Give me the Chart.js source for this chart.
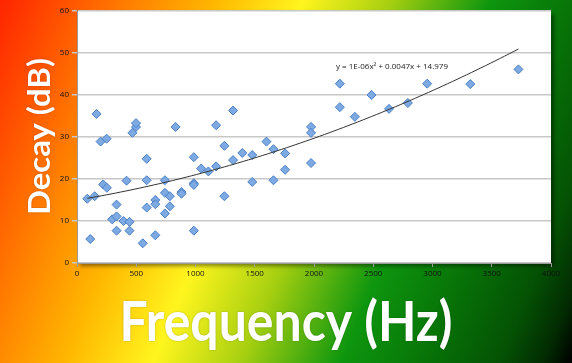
<!DOCTYPE html>
<html>
<head>
<meta charset="utf-8">
<script src="https://cdn.jsdelivr.net/npm/chart.js@4.4.1/dist/chart.umd.min.js"></script>
<style>
  html, body { margin: 0; padding: 0; background: #fff; }
  #wrap { width: 572px; height: 363px; }
</style>
</head>
<body>
<div id="wrap"><canvas id="decayChart" width="572" height="363"></canvas></div>
<script>
const frequencies = [
    165, 199, 250, 468, 498, 498, 832, 1174, 1317, 1244, 1599, 1658, 1975, 1975,
    1756, 1975, 87, 149, 221, 252, 334, 297, 334, 392, 443, 334, 443, 112,
    418, 588, 588, 588, 555, 661, 661, 661, 742, 742, 784, 784, 742, 882,
    882, 986, 986, 986, 986, 1048, 1109, 1174, 1244, 1317, 1395, 1479, 1479, 1658,
    1756, 2218, 2955, 3319, 3725, 2218, 2485, 2345, 2633, 2792
];
const decays = [
    35.5, 28.9, 29.6, 31.0, 32.4, 33.3, 32.4, 32.8, 36.3, 27.9, 28.9, 27.1, 32.4, 31.0,
    26.1, 23.8, 15.3, 15.9, 18.7, 17.9, 13.9, 10.4, 11.1, 10.0, 9.8, 7.7, 7.7, 5.7,
    19.6, 24.8, 19.7, 13.2, 4.7, 15.0, 14.0, 6.6, 19.7, 16.7, 15.9, 13.5, 11.8, 16.9,
    16.5, 25.2, 19.0, 18.6, 7.7, 22.5, 21.8, 23.0, 15.9, 24.5, 26.2, 25.7, 19.3, 19.7,
    22.2, 42.7, 42.7, 42.6, 46.1, 37.1, 40.0, 34.8, 36.7, 38.1
];

// polynomial trendline (label shows rounded coefficients)
const trendA = 1.33e-6;
const trendB = 0.0047;
const trendC = 14.979;
const equationText = 'y = 1E-06x\u00B2 + 0.0047x + 14.979';

const xTitle = 'Frequency (Hz)';
const yTitle = 'Decay (dB)';

const points = frequencies.map((f, i) => ({ x: f, y: decays[i] }));

const xMin = Math.min(...frequencies);
const xMax = Math.max(...frequencies);
const trendPoints = [];
for (let f = xMin; f < xMax; f += 40) {
    trendPoints.push({ x: f, y: trendA * f * f + trendB * f + trendC });
}
trendPoints.push({ x: xMax, y: trendA * xMax * xMax + trendB * xMax + trendC });

function fitText(ctx, text, x, y, targetWidth) {
    const w = ctx.measureText(text).width;
    ctx.save();
    ctx.translate(x, y);
    ctx.scale(targetWidth / w, 1);
    ctx.fillText(text, 0, 0);
    ctx.restore();
}

const backdrop = {
    id: 'backdrop',
    beforeDraw(chart) {
        const { ctx, width, height, chartArea } = chart;
        ctx.save();
        const g = ctx.createLinearGradient(0, 0, 616, 255);
        g.addColorStop(0, '#ff2400');
        g.addColorStop(0.18, '#ff7e00');
        g.addColorStop(0.3, '#ffb800');
        g.addColorStop(0.42, '#fff51e');
        g.addColorStop(0.54, '#a8d010');
        g.addColorStop(0.68, '#0e960e');
        g.addColorStop(0.8, '#077207');
        g.addColorStop(0.9, '#045204');
        g.addColorStop(0.96, '#022c02');
        g.addColorStop(1, '#000000');
        ctx.fillStyle = g;
        ctx.fillRect(0, 0, width, height);

        ctx.shadowColor = 'rgba(0,0,0,0.45)';
        ctx.shadowBlur = 4;
        ctx.shadowOffsetX = 3;
        ctx.shadowOffsetY = 3;
        ctx.fillStyle = '#ffffff';
        ctx.fillRect(chartArea.left, chartArea.top,
            chartArea.right - chartArea.left, chartArea.bottom - chartArea.top);
        ctx.restore();
    },
    afterDraw(chart) {
        const { ctx, scales } = chart;
        ctx.save();
        // trendline equation
        ctx.fillStyle = '#222';
        ctx.font = '8px "Open Sans", sans-serif';
        ctx.textAlign = 'left';
        ctx.textBaseline = 'middle';
        ctx.fillText(equationText, scales.x.getPixelForValue(2185), scales.y.getPixelForValue(46.7));

        // big axis titles
        ctx.fillStyle = '#ffffff';
        ctx.shadowColor = 'rgba(0,0,0,0.25)';
        ctx.shadowBlur = 2;
        ctx.textAlign = 'center';
        ctx.textBaseline = 'alphabetic';
        ctx.font = 'bold 55px Lato, sans-serif';
        fitText(ctx, xTitle, 286, 341, 333);

        ctx.translate(50, 136.5);
        ctx.rotate(-Math.PI / 2);
        ctx.font = 'bold 31px Lato, sans-serif';
        fitText(ctx, yTitle, 0, 0, 157);
        ctx.restore();
    }
};

const ctx = document.getElementById('decayChart').getContext('2d');
const decayChart = new Chart(ctx, {
    type: 'scatter',
    data: {
        datasets: [
            {
                type: 'line',
                label: 'Trend',
                data: trendPoints,
                borderColor: '#333333',
                borderWidth: 1,
                pointRadius: 0,
                fill: false,
                tension: 0,
                order: 0
            },
            {
                label: 'Decay',
                data: points,
                pointStyle: 'rectRot',
                pointRadius: 4.5,
                backgroundColor: '#7eaae3',
                borderColor: '#4b7fc4',
                borderWidth: 1,
                order: 1
            }
        ]
    },
    options: {
        responsive: false,
        animation: false,
        layout: { padding: { left: 0, right: 21, top: 11, bottom: 0 } },
        plugins: {
            legend: { display: false },
            tooltip: { enabled: false },
            title: { display: false }
        },
        scales: {
            x: {
                type: 'linear',
                min: 0,
                max: 4000,
                afterFit: scale => { scale.height = 100; },
                ticks: {
                    stepSize: 500,
                    autoSkip: false,
                    color: '#111111',
                    font: { size: 8, family: '"Open Sans", sans-serif' },
                    padding: 2,
                    maxRotation: 0,
                    callback: value => String(value)
                },
                grid: {
                    drawOnChartArea: false,
                    tickLength: 4,
                    color: '#9a9a9a'
                },
                border: { color: '#9a9a9a', width: 1 }
            },
            y: {
                min: 0,
                max: 60,
                afterFit: scale => { scale.width = 77; },
                ticks: {
                    stepSize: 10,
                    color: '#111111',
                    font: { size: 8, family: '"Open Sans", sans-serif' },
                    padding: 3,
                    callback: value => String(value)
                },
                grid: {
                    color: '#c8c8c8',
                    lineWidth: 1.5,
                    tickLength: 5
                },
                border: { color: '#9a9a9a', width: 1 }
            }
        }
    },
    plugins: [backdrop]
});
</script>
</body>
</html>
